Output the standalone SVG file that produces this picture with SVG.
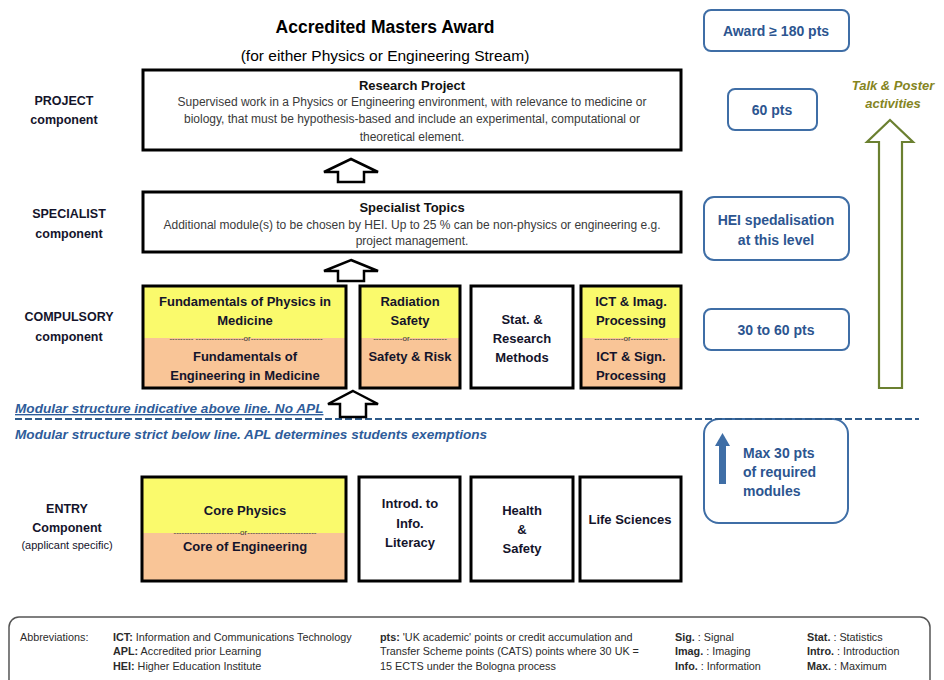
<svg xmlns="http://www.w3.org/2000/svg" width="944" height="680" viewBox="0 0 944 680">
<style>
text{font-family:"Liberation Sans",Arial,sans-serif}
.title{font-size:17.5px;font-weight:bold;fill:#000}
.sub{font-size:15.5px;fill:#000}
.lbl{font-size:12.5px;font-weight:bold;fill:#14142b}
.small{font-size:11px;fill:#14142b}
.box{fill:#fff;stroke:#000;stroke-width:3}
.hd{font-size:13px;font-weight:bold;fill:#111}
.desc{font-size:12px;fill:#3a3a3a}
.mod{font-size:13px;font-weight:bold;fill:#14142b}
.or{font-size:8px;fill:#333}
.yel{fill:#fafa6c}
.pea{fill:#f9c597}
.rb{fill:#fff;stroke:#3f6ea6;stroke-width:2}
.rt{font-size:14px;font-weight:bold;fill:#2c5590}
.blue{font-size:13.6px;font-weight:bold;font-style:italic;fill:#2e5c9a}
.ab{font-size:10.8px;fill:#2b2b2b}
.ab tspan.b{font-weight:bold}
.harrow{fill:#fff;stroke:#000;stroke-width:2.5;stroke-linejoin:miter}
</style>

<g id="title">
<text class="title" x="385" y="33" text-anchor="middle">Accredited Masters Award</text>
<text class="sub" x="385" y="61" text-anchor="middle">(for either Physics or Engineering Stream)</text>
</g>

<g id="labels">
<text class="lbl" x="64" y="105" text-anchor="middle">PROJECT</text>
<text class="lbl" x="64" y="124" text-anchor="middle">component</text>
<text class="lbl" x="69" y="218" text-anchor="middle">SPECIALIST</text>
<text class="lbl" x="69" y="238" text-anchor="middle">component</text>
<text class="lbl" x="69" y="321" text-anchor="middle">COMPULSORY</text>
<text class="lbl" x="69" y="341" text-anchor="middle">component</text>
<text class="lbl" x="67" y="513" text-anchor="middle">ENTRY</text>
<text class="lbl" x="67" y="532" text-anchor="middle">Component</text>
<text class="small" x="67" y="549" text-anchor="middle">(applicant specific)</text>
</g>

<g id="research">
<rect class="box" x="143" y="70" width="538" height="80"/>
<text class="hd" x="412" y="90" text-anchor="middle">Research Project</text>
<text class="desc" x="412" y="106" text-anchor="middle">Supervised work in a Physics or Engineering environment, with relevance to medicine or</text>
<text class="desc" x="412" y="123" text-anchor="middle">biology, that must be hypothesis-based and include an experimental, computational or</text>
<text class="desc" x="412" y="141" text-anchor="middle">theoretical element.</text>
</g>

<g id="specialist">
<rect class="box" x="143" y="192" width="538" height="60"/>
<text class="hd" x="412" y="212" text-anchor="middle">Specialist Topics</text>
<text class="desc" x="412" y="229" text-anchor="middle">Additional module(s) to be chosen by HEI. Up to 25 % can be non-physics or engineering e.g.</text>
<text class="desc" x="412" y="245" text-anchor="middle">project management.</text>
</g>

<g id="fund">
<rect class="yel" x="143" y="286" width="203" height="52"/>
<rect class="pea" x="143" y="338" width="203" height="50"/>
<rect x="143" y="286" width="203" height="102" fill="none" stroke="#000" stroke-width="3"/>
<text class="mod" x="245" y="306" text-anchor="middle">Fundamentals of Physics in</text>
<text class="mod" x="245" y="325" text-anchor="middle">Medicine</text>
<text class="or" x="246" y="341" text-anchor="middle">--------- ------------------or---------------------------</text>
<text class="mod" x="245" y="361" text-anchor="middle">Fundamentals of</text>
<text class="mod" x="245" y="380" text-anchor="middle">Engineering in Medicine</text>
</g>

<g id="radiation">
<rect class="yel" x="360" y="286" width="100" height="52"/>
<rect class="pea" x="360" y="338" width="100" height="50"/>
<rect x="360" y="286" width="100" height="102" fill="none" stroke="#000" stroke-width="3"/>
<text class="mod" x="410" y="306" text-anchor="middle">Radiation</text>
<text class="mod" x="410" y="325" text-anchor="middle">Safety</text>
<text class="or" x="410" y="341" text-anchor="middle">-----------or--------------</text>
<text class="mod" x="410" y="361" text-anchor="middle">Safety &amp; Risk</text>
</g>

<g id="stat">
<rect class="box" x="471" y="286" width="102" height="102"/>
<text class="mod" x="522" y="324" text-anchor="middle">Stat. &amp;</text>
<text class="mod" x="522" y="343" text-anchor="middle">Research</text>
<text class="mod" x="522" y="362" text-anchor="middle">Methods</text>
</g>

<g id="ict">
<rect class="yel" x="581" y="286" width="100" height="52"/>
<rect class="pea" x="581" y="338" width="100" height="50"/>
<rect x="581" y="286" width="100" height="102" fill="none" stroke="#000" stroke-width="3"/>
<text class="mod" x="631" y="306" text-anchor="middle">ICT &amp; Imag.</text>
<text class="mod" x="631" y="325" text-anchor="middle">Processing</text>
<text class="or" x="631" y="341" text-anchor="middle">-----------or--------------</text>
<text class="mod" x="631" y="361" text-anchor="middle">ICT &amp; Sign.</text>
<text class="mod" x="631" y="380" text-anchor="middle">Processing</text>
</g>

<g id="core">
<rect class="yel" x="142" y="477" width="204" height="56"/>
<rect class="pea" x="142" y="533" width="204" height="48"/>
<rect x="142" y="477" width="204" height="104" fill="none" stroke="#000" stroke-width="3"/>
<text class="mod" x="245" y="515" text-anchor="middle">Core Physics</text>
<text class="or" x="245" y="535" text-anchor="middle" fill="#3f8a3a">-------------------------or--------------------------</text>
<text class="mod" x="245" y="551" text-anchor="middle">Core of Engineering</text>
</g>

<g id="introd">
<rect class="box" x="359" y="477" width="101" height="104"/>
<text class="mod" x="410" y="508" text-anchor="middle">Introd. to</text>
<text class="mod" x="410" y="528" text-anchor="middle">Info.</text>
<text class="mod" x="410" y="547" text-anchor="middle">Literacy</text>
</g>

<g id="health">
<rect class="box" x="471" y="477" width="102" height="104"/>
<text class="mod" x="522" y="515" text-anchor="middle">Health</text>
<text class="mod" x="522" y="534" text-anchor="middle">&amp;</text>
<text class="mod" x="522" y="553" text-anchor="middle">Safety</text>
</g>

<g id="life">
<rect class="box" x="580" y="477" width="101" height="104"/>
<text class="mod" x="630" y="524" text-anchor="middle">Life Sciences</text>
</g>

<g id="award">
<rect class="rb" x="704" y="10" width="145" height="41" rx="7"/>
<text class="rt" x="776" y="36" text-anchor="middle">Award ≥ 180 pts</text>
</g>
<g id="pts60">
<rect class="rb" x="728" y="89" width="89" height="41" rx="7"/>
<text class="rt" x="772" y="115" text-anchor="middle">60 pts</text>
</g>
<g id="hei">
<rect class="rb" x="704" y="197" width="145" height="63" rx="10"/>
<text class="rt" x="776" y="225" text-anchor="middle">HEI spedalisation</text>
<text class="rt" x="776" y="245" text-anchor="middle">at this level</text>
</g>
<g id="pts3060">
<rect class="rb" x="704" y="309" width="145" height="41" rx="7"/>
<text class="rt" x="776" y="335" text-anchor="middle">30 to 60 pts</text>
</g>
<g id="max">
<rect class="rb" x="704" y="419" width="144" height="104" rx="15"/>
<rect x="719" y="445" width="7" height="39" fill="#3f6ea6"/>
<polygon points="722.5,433 730,446 715,446" fill="#3f6ea6"/>
<text class="rt" x="743" y="458">Max 30 pts</text>
<text class="rt" x="743" y="477">of required</text>
<text class="rt" x="743" y="496">modules</text>
</g>

<g id="talk">
<text x="893" y="90" text-anchor="middle" font-size="13" font-weight="bold" font-style="italic" fill="#85851f">Talk &amp; Poster</text>
<text x="893" y="108" text-anchor="middle" font-size="13" font-weight="bold" font-style="italic" fill="#85851f">activities</text>
</g>

<g id="divider">
<line x1="15" y1="419" x2="919" y2="419" stroke="#2e5a8a" stroke-width="2" stroke-dasharray="7,3"/>
<text class="blue" x="15" y="413" text-decoration="underline">Modular structure indicative above line. No APL</text>
<text class="blue" x="15" y="439">Modular structure strict below line. APL determines students exemptions</text>
</g>

<g id="connectors">
<polygon class="harrow" points="351,159 378,172 364,172 364,182 338,182 338,172 324,172"/>
<polygon class="harrow" points="351,260 378,271 364,271 364,281 338,281 338,271 324,271"/>
<polygon class="harrow" points="353,391 378,404 366,404 366,417 340,417 340,404 328,404"/>
<polygon points="890,120 913,142 902,142 902,388 879,388 879,142 867,142" fill="#fff" stroke="#6b8030" stroke-width="2.2"/>
</g>

<g id="abbreviations">
<rect x="9" y="617" width="921" height="80" rx="10" fill="#fff" stroke="#555" stroke-width="1.5"/>
<text class="ab" x="20" y="641">Abbreviations:</text>
<text class="ab" x="113" y="641"><tspan class="b">ICT:</tspan> Information and Communications Technology</text>
<text class="ab" x="113" y="655"><tspan class="b">APL:</tspan> Accredited prior Learning</text>
<text class="ab" x="113" y="670"><tspan class="b">HEI:</tspan> Higher Education Institute</text>
<text class="ab" x="380" y="641"><tspan class="b">pts:</tspan> 'UK academic' points or credit accumulation and</text>
<text class="ab" x="380" y="655">Transfer Scheme points (CATS) points where 30 UK =</text>
<text class="ab" x="380" y="670">15 ECTS under the Bologna  process</text>
<text class="ab" x="675" y="641"><tspan class="b">Sig.</tspan> : Signal</text>
<text class="ab" x="675" y="655"><tspan class="b">Imag.</tspan> : Imaging</text>
<text class="ab" x="675" y="670"><tspan class="b">Info.</tspan> : Information</text>
<text class="ab" x="807" y="641"><tspan class="b">Stat.</tspan> : Statistics</text>
<text class="ab" x="807" y="655"><tspan class="b">Intro.</tspan> : Introduction</text>
<text class="ab" x="807" y="670"><tspan class="b">Max.</tspan> : Maximum</text>
</g>
</svg>
